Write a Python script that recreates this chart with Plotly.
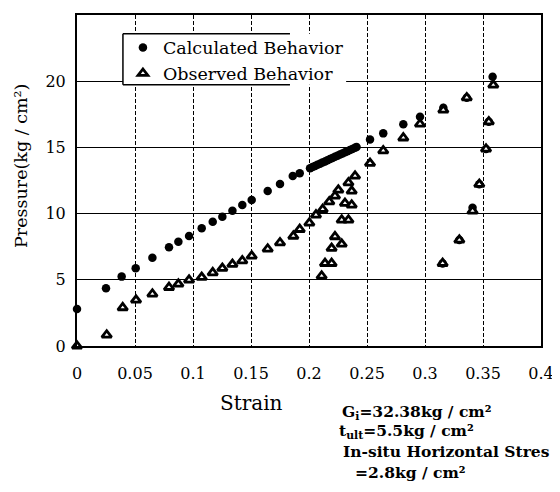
import plotly.graph_objects as go

# Calculated behavior (strain, pressure kg/cm2)
calc_strain = [0, 0.025, 0.0385, 0.0506, 0.065, 0.0793, 0.0874, 0.0966, 0.1075, 0.117,
               0.1253, 0.134, 0.1425, 0.1506, 0.1644, 0.175, 0.186, 0.192,
               0.2009, 0.2030, 0.2052, 0.2073, 0.2095, 0.2116, 0.2138, 0.2159, 0.2181,
               0.2202, 0.2224, 0.2245, 0.2267, 0.2288, 0.2310, 0.2331, 0.2353, 0.2374,
               0.2396, 0.2410, 0.2526, 0.264, 0.2813, 0.2957, 0.3158, 0.336, 0.3583,
               0.355, 0.3526, 0.3468, 0.341, 0.3296, 0.3152]
calc_press = [2.8, 4.36, 5.24, 5.87, 6.67, 7.45, 7.88, 8.3, 8.89, 9.39,
              9.77, 10.22, 10.65, 11.03, 11.7, 12.24, 12.84, 13.04,
              13.42, 13.52, 13.60, 13.69, 13.77, 13.86, 13.94, 14.03, 14.12,
              14.20, 14.29, 14.37, 14.46, 14.54, 14.63, 14.71, 14.80, 14.88,
              14.97, 15.03, 15.6, 16.06, 16.74, 17.32, 18.0, 18.75, 20.34,
              16.94, 14.88, 12.21, 10.45, 8.0, 6.24]

# Observed behavior
obs_strain = [0, 0.0256, 0.0394, 0.0509, 0.065, 0.0793, 0.0874, 0.0966, 0.1075, 0.117,
              0.1253, 0.134, 0.1425, 0.1506, 0.1644, 0.175, 0.1865, 0.192, 0.2003, 0.206,
              0.2118, 0.2175, 0.2224, 0.2253, 0.234, 0.2397, 0.2368, 0.231, 0.2368, 0.2282,
              0.234, 0.2224, 0.2282, 0.2195, 0.2138, 0.2195, 0.2109, 0.2526, 0.264, 0.2813,
              0.2957, 0.3158, 0.336, 0.3589, 0.355, 0.3526, 0.3468, 0.341, 0.3296, 0.3152]
obs_press = [0, 0.83, 2.9, 3.47, 3.93, 4.43, 4.68, 4.98, 5.19, 5.54,
             5.87, 6.17, 6.44, 6.8, 7.33, 7.8, 8.3, 8.81, 9.29, 9.9,
             10.32, 10.9, 11.33, 11.78, 12.33, 12.84, 11.7, 10.78, 10.65, 9.52,
             9.52, 8.26, 7.7, 7.38, 6.24, 6.24, 5.29, 13.8, 14.75, 15.72,
             16.77, 17.82, 18.75, 19.71, 16.94, 14.88, 12.21, 10.2, 8.0, 6.24]

x_ticks = [0, 0.05, 0.1, 0.15, 0.2, 0.25, 0.3, 0.35, 0.4]
x_labels = ["0", "0.05", "0.1", "0.15", "0.2", "0.25", "0.3", "0.35", "0.4"]
y_ticks = [0, 5, 10, 15, 20, 25]

FONT = "DejaVu Serif"

fig = go.Figure()
fig.add_trace(go.Scatter(
    x=calc_strain, y=calc_press, mode="markers", name="Calculated Behavior",
    marker=dict(symbol="circle", size=8.5, color="black", line=dict(width=0)),
    cliponaxis=False))
fig.add_trace(go.Scatter(
    x=obs_strain, y=obs_press, mode="markers", name="Observed Behavior",
    marker=dict(symbol="triangle-up", size=8.5, color="white",
                line=dict(width=2.8, color="black")),
    cliponaxis=False))

# page body has an 8px margin: figure is sized to fit the 560x492 window
fig.update_layout(
    width=552, height=484,
    margin=dict(l=69, r=19, t=7, b=146, autoexpand=False),
    paper_bgcolor="white", plot_bgcolor="white",
    font=dict(family=FONT, color="black", size=16),
    showlegend=True,
    legend=dict(x=0.099, y=0.956, xanchor="left", yanchor="top",
                bgcolor="rgba(0,0,0,0)", borderwidth=0,
                font=dict(family=FONT, size=17.5, color="black"),
                tracegroupgap=0),
)
fig.update_xaxes(range=[0, 0.4], tickvals=x_ticks, ticktext=x_labels,
                 showgrid=True, gridcolor="black", gridwidth=1, griddash="4px,2px",
                 showline=True, linecolor="black", linewidth=2, mirror=True,
                 zeroline=False, ticks="", ticklabelstandoff=12, automargin=False,
                 tickfont=dict(family=FONT, size=16))
fig.update_yaxes(range=[0, 25], tickvals=y_ticks,
                 showgrid=True, gridcolor="black", gridwidth=1,
                 showline=True, linecolor="black", linewidth=2, mirror=True,
                 zeroline=False, ticks="", ticklabelstandoff=6, automargin=False,
                 tickfont=dict(family=FONT, size=16))

# legend box (partial, as in the scan) drawn above the grid
fig.add_shape(type="rect", xref="paper", yref="paper", x0=0.099, x1=0.58,
              y0=0.789, y1=0.943, fillcolor="white", line=dict(width=0), layer="above")
for (x0, y0, x1, y1) in [(0.099, 0.943, 0.459, 0.943), (0.099, 0.789, 0.459, 0.789),
                         (0.099, 0.789, 0.099, 0.943)]:
    fig.add_shape(type="line", xref="paper", yref="paper", x0=x0, y0=y0, x1=x1, y1=y1,
                  line=dict(color="black", width=1.5), layer="above")

ann = [
    dict(text="Strain", x=0.377, y=-0.172, xanchor="center", yanchor="middle", size=20, bold=False),
    dict(text="G<sub>i</sub>=32.38kg / cm²", x=0.567, y=-0.2024, xanchor="left", yanchor="middle", size=15.5, bold=True),
    dict(text="t<sub>ult</sub>=5.5kg / cm²", x=0.560, y=-0.2568, xanchor="left", yanchor="middle", size=15.5, bold=True),
    dict(text="In-situ Horizontal Stres", x=0.569, y=-0.3202, xanchor="left", yanchor="middle", size=15.5, bold=True),
    dict(text="=2.8kg / cm²", x=0.595, y=-0.3807, xanchor="left", yanchor="middle", size=15.5, bold=True),
]
for a in ann:
    t = "<b>" + a["text"] + "</b>" if a["bold"] else a["text"]
    fig.add_annotation(text=t, x=a["x"], y=a["y"], xref="paper", yref="paper",
                       xanchor=a["xanchor"], yanchor=a["yanchor"], showarrow=False,
                       font=dict(family=FONT, size=a["size"], color="black"))

fig.add_annotation(text="Pressure(kg / cm²)", x=-0.1207, y=0.544, xref="paper", yref="paper",
                   xanchor="center", yanchor="middle", textangle=-90, showarrow=False,
                   font=dict(family=FONT, size=17.5, color="black"))

fig.write_html("out.html")
